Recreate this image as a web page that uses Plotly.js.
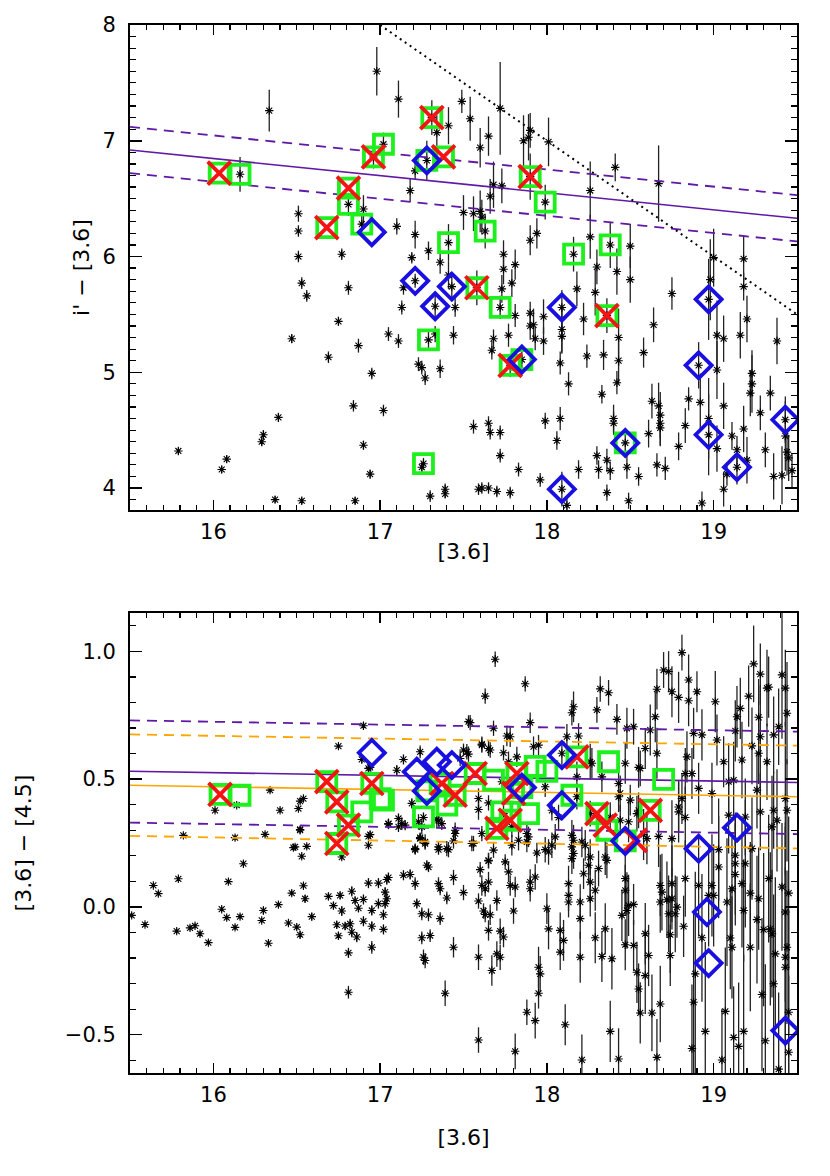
<!DOCTYPE html>
<html>
<head>
<meta charset="utf-8">
<script src="https://cdn.plot.ly/plotly-3.0.1.min.js"></script>
<style>html,body{margin:0;padding:0;background:#fff;}#chart{width:830px;height:1176px;}</style>
</head>
<body>
<div id="chart"></div>
<script>
// ---------- TOP PANEL DATA : [3.6] vs i' - [3.6] ----------
var topStarX = [16.335,16.16,16.98,17.11,17.49,17.34,17.41,17.02,17.28,17.18,17.21,16.81,16.90,16.89,16.51,16.51,16.51,16.77,17.10,17.21,17.29,17.19,17.41,17.50,17.54,17.60,17.65,17.72,17.86,17.89,17.90,18.01,17.99,18.26,18.41,18.67,18.26,18.16,18.38,18.50,17.68,17.66,17.73,17.56,17.60,17.61,17.63,17.90,17.94,17.74,19.00,19.18,16.53,16.56,16.81,16.75,16.47,16.69,16.87,16.95,17.05,17.11,17.21,17.14,17.13,17.33,17.43,17.45,17.36,17.41,17.29,17.33,17.44,17.23,17.25,17.27,17.36,16.84,17.02,16.39,16.30,16.29,16.90,15.79,16.08,16.05,16.94,17.26,17.25,17.30,17.39,16.37,16.53,16.85,17.58,17.72,18.09,18.36,18.97,17.78,17.85,18.91,18.97,19.43,19.14,18.47,18.09,17.74,17.81,17.79,17.73,17.68,17.67,17.77,17.81,17.90,17.90,17.92,17.93,17.98,17.98,18.09,18.09,18.08,18.22,18.18,18.29,18.30,18.42,18.50,18.43,18.43,18.24,18.34,18.13,18.33,18.42,18.58,18.64,18.75,18.85,18.92,18.97,19.02,19.06,19.02,18.98,19.18,19.20,19.16,19.23,19.23,19.22,19.34,19.38,19.28,19.18,19.11,19.06,19.31,19.36,19.43,19.44,19.45,19.47,19.20,19.06,19.02,19.14,19.08,18.93,18.83,18.79,18.67,18.68,18.68,18.68,18.63,18.61,18.66,18.71,18.55,18.48,18.40,18.40,18.30,18.31,18.36,18.38,18.19,18.08,18.06,17.99,17.96,17.83,17.72,17.65,17.66,17.56,17.72,17.59,17.61,17.65,17.70,17.78,17.39,18.36,18.49,18.12,19.41,17.31,17.90,16.96];
var topStarY = [7.26,6.71,7.60,7.36,7.34,7.07,7.13,6.97,6.83,6.57,6.74,6.45,6.41,6.28,6.37,6.22,6.00,6.02,6.26,6.19,6.05,5.99,6.12,6.38,7.19,6.94,7.04,7.28,7.00,7.03,7.09,6.99,6.47,6.57,6.77,6.63,6.17,6.02,6.10,6.09,6.62,6.52,6.61,6.37,6.39,6.34,6.22,6.14,6.20,6.02,5.99,5.98,5.77,5.66,5.73,5.44,5.29,5.13,5.23,4.99,5.33,5.27,5.79,5.73,5.56,5.57,5.74,5.56,5.95,5.84,5.28,5.33,5.32,5.07,5.04,4.95,5.03,4.71,4.67,4.61,4.46,4.40,4.37,4.32,4.25,4.16,4.12,4.21,4.18,3.93,3.99,3.90,3.89,3.89,5.73,5.56,5.56,5.49,5.63,5.06,5.11,5.06,4.46,4.59,4.18,4.39,3.99,5.89,5.93,5.77,5.72,5.29,5.19,5.32,5.49,5.51,5.40,5.41,5.29,5.27,5.48,5.37,5.31,5.08,5.46,5.72,5.69,5.91,5.87,5.80,5.30,5.10,5.14,5.15,4.90,4.81,4.91,5.17,5.41,5.68,4.77,4.74,4.60,5.32,5.29,5.02,5.80,5.74,5.46,5.32,4.99,4.90,4.82,4.82,5.27,4.65,4.51,4.45,4.71,4.33,4.10,4.45,4.31,4.26,4.15,4.24,3.99,4.34,4.33,4.12,3.87,4.54,4.36,4.71,4.63,4.56,4.52,4.75,4.47,4.20,4.17,4.10,4.18,4.60,4.56,4.28,4.16,4.24,4.15,4.16,4.60,4.41,4.58,4.07,4.16,4.28,4.56,4.48,4.53,4.48,3.99,4.00,4.00,3.97,3.96,3.95,3.96,3.89,3.85,4.11,7.20,6.69,6.86];
var topStarErr = [0.18,0.15,0.21,0.16,0.10,0.15,0.16,0.10,0.17,0.10,0.08,0.10,0.12,0.08,0.07,0.05,0.05,0.05,0.07,0.12,0.08,0.05,0.16,0.15,0.19,0.17,0.17,0.40,0.22,0.20,0.15,0.21,0.15,0.25,0.12,0.33,0.19,0.15,0.20,0.19,0.20,0.15,0.15,0.15,0.18,0.15,0.15,0.13,0.13,0.12,0.25,0.20,0.05,0.05,0.06,0.04,0.04,0.05,0.06,0.05,0.06,0.06,0.06,0.06,0.06,0.10,0.12,0.08,0.10,0.12,0.07,0.07,0.08,0.06,0.06,0.06,0.08,0.05,0.05,0.04,0.04,0.04,0.04,0.03,0.03,0.03,0.04,0.05,0.05,0.05,0.05,0.03,0.03,0.03,0.15,0.10,0.15,0.15,0.35,0.10,0.12,0.20,0.35,0.20,0.15,0.10,0.15,0.13,0.13,0.12,0.12,0.08,0.08,0.10,0.10,0.10,0.12,0.14,0.10,0.12,0.15,0.20,0.15,0.10,0.14,0.15,0.20,0.15,0.20,0.20,0.25,0.20,0.10,0.13,0.10,0.08,0.10,0.13,0.15,0.14,0.10,0.25,0.35,0.30,0.20,0.25,0.35,0.12,0.20,0.20,0.20,0.25,0.20,0.15,0.20,0.15,0.20,0.12,0.20,0.15,0.20,0.30,0.20,0.20,0.15,0.20,0.15,0.20,0.12,0.10,0.10,0.15,0.12,0.20,0.20,0.20,0.15,0.15,0.12,0.10,0.10,0.08,0.10,0.12,0.10,0.08,0.08,0.10,0.08,0.08,0.10,0.08,0.07,0.06,0.06,0.06,0.06,0.06,0.06,0.06,0.05,0.05,0.05,0.05,0.05,0.04,0.07,0.07,0.06,0.25,0.15,0.20,0.10];

var topSqX = [16.035,16.16,16.68,16.81,16.81,16.89,16.96,17.02,17.28,17.31,17.38,17.41,17.29,17.26,17.58,17.72,17.63,17.90,17.99,18.16,18.38,18.36,17.78,17.85,18.47];
var topSqY = [6.72,6.71,6.25,6.59,6.45,6.28,6.86,6.97,6.83,7.20,6.86,6.12,5.28,4.21,5.73,5.56,6.22,6.69,6.47,6.02,6.10,5.49,5.06,5.11,4.39];
var topXX = [16.035,16.68,16.81,16.96,17.31,17.38,17.58,17.90,18.36,17.78];
var topXY = [6.72,6.25,6.59,6.86,7.20,6.86,5.73,6.69,5.49,5.06];
var topDiaX = [16.95,17.28,17.21,17.33,17.43,18.09,18.97,17.85,18.91,18.97,19.43,19.14,18.47,18.09];
var topDiaY = [6.21,6.83,5.79,5.57,5.74,5.56,5.63,5.11,5.06,4.46,4.59,4.18,4.39,3.99];

var fitX = [15.5, 19.5];
var topFit = [6.92, 6.33];
var topFitHi = [7.12, 6.53];
var topFitLo = [6.72, 6.13];
var limitX = [17.0, 19.5];
var limitY = [8.0, 5.5];

// ---------- BOTTOM PANEL DATA : [3.6] vs [3.6] - [4.5] ----------
var botStarX = [15.51,15.59,15.64,15.67,15.79,15.78,15.82,15.86,15.89,15.92,15.97,16.05,16.08,16.09,16.13,16.13,16.16,16.18,16.29,16.30,16.31,16.33,16.39,16.45,16.47,16.48,16.50,16.52,16.52,16.53,16.54,16.55,16.56,16.59,16.69,16.72,16.74,16.75,16.76,16.77,16.77,16.79,16.82,16.83,16.81,16.81,16.83,16.85,16.86,16.87,16.90,16.90,16.93,16.93,16.94,16.95,16.95,16.95,16.99,16.99,17.02,17.02,17.03,17.03,17.04,17.05,17.04,17.05,17.15,17.14,17.18,17.21,17.22,17.21,17.25,17.29,17.25,17.30,17.26,17.27,17.29,17.24,17.27,17.35,17.35,17.36,17.36,17.39,17.40,17.41,17.44,17.44,17.44,17.45,17.50,
16.90,16.75,16.89,16.93,16.34,16.01,16.40,16.51,16.52,16.54,16.14,17.10,17.14,17.24,17.19,17.50,17.53,17.11,17.13,17.05,17.35,17.37,17.26,
16.52,16.49,16.94,16.93,17.11,17.23,17.25,17.27,17.24,17.21,17.34,17.35,17.40,17.28,
17.69,17.63,17.87,17.54,17.68,17.90,17.76,17.78,17.61,17.66,17.74,17.53,17.92,17.95,17.82,18.15,18.16,18.30,18.32,18.37,18.19,18.12,18.09,18.26,18.33,18.42,18.48,18.52,18.47,18.56,18.59,18.62,18.65,18.66,18.70,18.73,18.81,18.75,18.79,18.85,18.85,18.90,18.66,18.88,18.93,18.83,18.87,19.01,19.02,19.06,19.13,19.14,19.16,19.17,19.21,19.24,19.28,19.32,19.33,19.27,19.28,19.23,19.41,19.43,19.39,19.44,19.36,19.27,19.32,19.09,19.12,19.26,18.91,18.99,18.79,18.83,18.43,18.50,18.55,18.38,18.44,18.18,18.26,18.03,17.99,17.79,17.59,17.59,17.65,17.48,17.77,17.73,19.09,19.36,19.38,19.43,19.44,19.28,19.19,
17.56,17.60,17.59,17.61,17.63,17.65,17.65,17.62,17.63,17.66,17.65,17.70,17.72,17.74,17.70,17.72,17.67,17.59,17.59,17.68,17.75,17.77,17.78,17.81,17.80,17.81,17.90,17.90,17.93,17.88,17.89,17.94,17.99,17.95,17.96,17.95,17.88,17.93,18.00,18.01,18.08,18.10,18.08,18.11,18.13,18.13,18.13,18.22,18.20,18.20,18.16,18.15,18.23,18.25,18.26,18.29,18.26,18.20,18.21,18.29,18.33,18.31,18.36,18.35,18.39,18.38,18.43,18.45,18.47,18.47,18.49,18.48,18.52,18.52,18.47,18.54,18.55,18.56,18.59,18.59,18.61,18.63,18.66,18.68,18.69,18.68,18.68,18.72,18.73,18.75,18.75,18.77,18.78,18.74,18.74,18.83,18.82,18.88,18.89,18.87,18.91,18.93,18.95,18.97,18.99,19.00,19.03,19.05,19.07,19.08,19.10,19.11,19.11,19.12,19.15,19.13,19.13,19.13,19.17,19.18,19.18,19.19,19.22,19.22,19.23,19.26,19.27,19.29,19.30,19.31,19.33,19.34,19.35,19.37,19.36,19.41,19.43,19.44,19.43,19.43,19.45,19.45,19.45,19.39,19.35,19.03,18.75,18.67,18.58,18.16,18.05,17.83,17.79,
17.45,17.55,17.61,17.65,17.88,18.03,18.01,18.15,18.15,18.21,18.26,18.35,18.60,18.79,18.81,18.84,18.49,18.54,18.43,18.44,18.55,18.27,18.18,18.07,17.74,17.52,17.61,17.65];
var botStarY = [-0.033,-0.069,0.084,0.052,0.110,-0.095,0.280,-0.082,-0.074,-0.105,-0.140,-0.009,-0.042,0.099,-0.080,0.271,-0.038,0.169,-0.053,-0.014,0.284,-0.142,0.009,-0.063,0.054,0.232,-0.079,-0.109,0.300,0.198,0.083,0.032,0.237,-0.038,0.041,0.005,-0.070,-0.113,0.045,-0.016,0.195,-0.075,-0.066,-0.099,-0.180,-0.334,0.061,0.025,-0.118,-0.005,0.029,-0.056,0.093,0.241,0.283,-0.014,-0.076,-0.158,0.093,0.013,-0.031,-0.088,0.058,0.013,0.107,0.115,0.032,0.324,0.320,0.124,0.127,0.091,0.013,0.224,-0.027,-0.031,-0.121,-0.112,-0.197,-0.210,0.156,0.271,0.248,0.224,0.091,0.071,-0.046,-0.338,0.035,0.224,0.115,-0.158,0.258,0.287,0.056,
0.709,0.629,0.577,0.542,0.457,0.378,0.378,0.385,0.414,0.424,0.398,0.535,0.577,0.607,0.405,0.614,0.725,0.346,0.326,0.326,0.339,0.326,0.350,
0.303,0.235,0.546,0.276,0.313,0.333,0.313,0.254,0.267,0.228,0.342,0.235,0.228,0.163,
0.969,0.825,0.873,0.721,0.699,0.721,0.669,0.666,0.637,0.614,0.603,0.598,0.627,0.633,0.587,0.760,0.783,0.771,0.853,0.838,0.669,0.666,0.601,0.568,0.509,0.734,0.699,0.705,0.562,0.542,0.620,0.692,0.744,0.852,0.927,0.921,0.995,0.842,0.820,0.888,0.807,0.842,0.601,0.679,0.673,0.522,0.522,0.803,0.653,0.568,0.689,0.744,0.777,0.575,0.825,0.951,0.911,0.856,0.860,0.742,0.666,0.630,0.908,0.856,0.705,0.758,0.673,0.601,0.568,0.490,0.496,0.457,0.464,0.444,0.391,0.350,0.431,0.418,0.378,0.350,0.339,0.431,0.365,0.378,0.470,0.313,0.424,0.381,0.407,0.581,0.568,0.490,0.359,0.378,0.339,0.424,0.378,0.372,0.352,
0.248,0.146,0.023,0.084,0.071,0.097,0.180,-0.016,-0.030,-0.031,-0.092,0.025,-0.095,-0.118,-0.184,-0.197,-0.249,-0.197,-0.521,0.222,0.176,0.137,0.084,0.078,-0.016,-0.565,0.097,0.071,0.117,0.254,0.274,0.211,0.224,-0.236,-0.262,-0.338,-0.412,-0.445,-0.007,-0.086,-0.092,-0.131,-0.177,-0.461,0.091,0.045,0.019,0.130,0.019,-0.046,0.209,0.189,0.241,0.163,0.097,0.065,0.032,-0.197,-0.599,-0.121,-0.194,0.150,0.182,-0.086,-0.203,-0.487,-0.595,-0.033,0.111,0.065,0.006,-0.014,0.010,-0.151,-0.148,-0.256,-0.321,-0.415,-0.105,-0.269,-0.190,-0.415,-0.589,0.084,0.058,0.019,-0.380,0.028,-0.027,0.091,0.032,-0.027,-0.001,-0.109,-0.190,0.111,-0.076,-0.373,-0.262,-0.554,0.084,-0.121,-0.487,0.045,0.084,0.045,0.156,-0.599,-0.409,0.019,-0.122,-0.158,0.071,-0.511,-0.546,0.202,0.169,0.127,0.091,-0.014,-0.487,0.169,-0.158,0.054,0.228,-0.050,0.032,-0.343,-0.089,-0.524,0.111,-0.086,-0.105,-0.184,-0.301,0.078,-0.020,-0.158,-0.197,-0.236,0.054,-0.412,-0.569,-0.635,0.313,0.224,0.267,0.276,0.283,0.261,0.274,0.261,0.241,
0.300,0.248,0.287,0.182,0.287,0.241,0.215,0.280,0.235,0.254,0.195,0.195,0.267,0.372,0.424,0.587,0.333,0.365,0.483,0.444,0.546,0.562,0.509,0.350,0.365,0.607,0.633,0.620];
var botStarErr = [0.010,0.010,0.010,0.010,0.010,0.010,0.010,0.010,0.010,0.010,0.010,0.010,0.010,0.010,0.010,0.010,0.010,0.010,0.010,0.015,0.010,0.010,0.010,0.010,0.010,0.010,0.010,0.015,0.010,0.010,0.010,0.015,0.010,0.015,0.015,0.015,0.015,0.015,0.015,0.020,0.010,0.015,0.020,0.020,0.020,0.025,0.020,0.015,0.020,0.015,0.020,0.020,0.020,0.015,0.015,0.020,0.020,0.025,0.020,0.020,0.020,0.020,0.020,0.020,0.020,0.020,0.020,0.020,0.020,0.020,0.020,0.025,0.020,0.020,0.025,0.025,0.025,0.025,0.030,0.030,0.020,0.020,0.020,0.020,0.025,0.025,0.025,0.050,0.025,0.030,0.030,0.040,0.030,0.030,0.030,
0.015,0.010,0.015,0.015,0.010,0.010,0.010,0.010,0.010,0.010,0.010,0.020,0.020,0.025,0.020,0.025,0.025,0.020,0.025,0.020,0.025,0.025,0.020,
0.010,0.010,0.015,0.015,0.020,0.030,0.030,0.030,0.020,0.020,0.030,0.020,0.030,0.020,
0.030,0.030,0.030,0.030,0.030,0.040,0.040,0.040,0.030,0.030,0.030,0.030,0.040,0.040,0.040,0.050,0.060,0.050,0.050,0.050,0.050,0.050,0.050,0.070,0.060,0.060,0.080,0.070,0.080,0.070,0.080,0.100,0.100,0.080,0.070,0.080,0.070,0.100,0.100,0.100,0.100,0.080,0.100,0.100,0.100,0.100,0.100,0.120,0.100,0.100,0.120,0.120,0.120,0.150,0.120,0.150,0.120,0.150,0.120,0.150,0.200,0.150,0.250,0.150,0.150,0.200,0.150,0.120,0.150,0.150,0.150,0.150,0.100,0.120,0.100,0.120,0.060,0.060,0.070,0.060,0.060,0.050,0.050,0.040,0.040,0.040,0.040,0.040,0.030,0.030,0.040,0.040,0.150,0.150,0.200,0.300,0.200,0.150,0.150,
0.030,0.030,0.030,0.040,0.030,0.040,0.030,0.030,0.030,0.040,0.040,0.040,0.050,0.040,0.050,0.050,0.060,0.050,0.050,0.030,0.030,0.040,0.040,0.040,0.050,0.070,0.050,0.050,0.050,0.040,0.040,0.040,0.050,0.080,0.070,0.060,0.050,0.070,0.060,0.080,0.070,0.080,0.070,0.080,0.070,0.060,0.060,0.060,0.070,0.080,0.060,0.060,0.060,0.070,0.070,0.080,0.070,0.100,0.100,0.100,0.100,0.070,0.070,0.100,0.120,0.120,0.120,0.100,0.120,0.100,0.120,0.150,0.080,0.100,0.100,0.120,0.100,0.120,0.120,0.150,0.120,0.150,0.150,0.120,0.150,0.120,0.150,0.150,0.150,0.150,0.120,0.150,0.120,0.150,0.120,0.150,0.120,0.350,0.400,0.250,0.200,0.250,0.350,0.200,0.200,0.200,0.200,0.200,0.250,0.250,0.200,0.200,0.200,0.200,0.250,0.150,0.200,0.200,0.250,0.200,0.300,0.250,0.250,0.200,0.200,0.250,0.200,0.300,0.300,0.300,0.250,0.300,0.250,0.300,0.350,0.250,0.350,0.300,0.350,0.550,0.300,0.400,0.300,0.300,0.200,0.200,0.150,0.120,0.100,0.060,0.050,0.040,0.040,
0.030,0.030,0.030,0.030,0.040,0.050,0.050,0.060,0.060,0.060,0.070,0.070,0.100,0.120,0.100,0.100,0.080,0.070,0.070,0.070,0.080,0.060,0.060,0.050,0.040,0.030,0.030,0.030];

var botSqX = [16.04,16.16,16.68,16.74,16.81,16.74,16.89,16.95,17.00,17.02,17.26,17.36,17.45,17.40,17.57,17.68,17.82,17.80,17.93,18.00,18.18,18.37,18.15,18.30,18.36,18.62,18.70,18.47,17.70,17.78,17.73,17.89,17.85,17.28];
var botSqY = [0.440,0.437,0.490,0.411,0.320,0.248,0.372,0.483,0.424,0.418,0.352,0.483,0.437,0.398,0.522,0.496,0.522,0.444,0.550,0.530,0.587,0.568,0.437,0.365,0.300,0.378,0.499,0.258,0.307,0.339,0.372,0.365,0.467,0.454];
var botXX = [16.04,16.68,16.74,16.81,16.74,16.95,17.37,17.45,17.57,17.82,17.80,17.70,17.78,18.18,18.30,18.35,18.62,18.53];
var botXY = [0.440,0.490,0.411,0.320,0.248,0.483,0.483,0.437,0.522,0.522,0.444,0.307,0.339,0.587,0.365,0.320,0.378,0.260];
var botDiaX = [16.95,17.22,17.34,17.28,17.43,17.85,18.09,18.09,18.47,18.91,18.96,18.97,19.14,19.43];
var botDiaY = [0.603,0.529,0.568,0.454,0.555,0.467,0.594,0.398,0.258,0.228,-0.020,-0.220,0.310,-0.484];

var botFitP = [0.531, 0.487];
var botFitPHi = [0.730, 0.686];
var botFitPLo = [0.330, 0.285];
var botFitO = [0.476, 0.431];
var botFitOHi = [0.675, 0.631];
var botFitOLo = [0.278, 0.229];

// ---------- STYLE ----------
var GREEN = 'rgb(30,240,30)', RED = 'rgb(245,20,20)', BLUE = 'rgb(25,15,225)';
var PURPLE = 'rgb(95,25,165)', ORANGE = 'rgb(255,165,0)';
var FONT = 'DejaVu Sans';

function stars(x, y, e, xa, ya) {
  return {x: x, y: y, xaxis: xa, yaxis: ya, type: 'scatter', mode: 'markers', hoverinfo: 'skip',
    marker: {symbol: 'asterisk-open', size: 7, color: '#000', line: {color: '#000', width: 1.1}},
    error_y: {type: 'data', array: e, visible: true, color: '#222', thickness: 1.3, width: 0}};
}
function line(x, y, color, dash, w, xa, ya) {
  return {x: x, y: y, xaxis: xa, yaxis: ya, type: 'scatter', mode: 'lines', hoverinfo: 'skip',
    line: {color: color, dash: dash, width: w}};
}
function marks(x, y, sym, size, color, w, xa, ya) {
  return {x: x, y: y, xaxis: xa, yaxis: ya, type: 'scatter', mode: 'markers', hoverinfo: 'skip',
    marker: {symbol: sym, size: size, color: color, line: {color: color, width: w}}};
}

var traces = [
  stars(topStarX, topStarY, topStarErr, 'x', 'y'),
  line(fitX, topFit, PURPLE, 'solid', 1.6, 'x', 'y'),
  line(fitX, topFitHi, PURPLE, '10px,7px', 1.8, 'x', 'y'),
  line(fitX, topFitLo, PURPLE, '10px,7px', 1.8, 'x', 'y'),
  line(limitX, limitY, '#000', '2px,4px', 2, 'x', 'y'),
  marks(topSqX, topSqY, 'square-open', 19, GREEN, 3.8, 'x', 'y'),
  marks(topXX, topXY, 'x-thin-open', 23, RED, 3.8, 'x', 'y'),
  marks(topDiaX, topDiaY, 'diamond-open', 20, BLUE, 3.8, 'x', 'y'),

  stars(botStarX, botStarY, botStarErr, 'x2', 'y2'),
  line(fitX, botFitP, PURPLE, 'solid', 1.6, 'x2', 'y2'),
  line(fitX, botFitPHi, PURPLE, '10px,7px', 1.8, 'x2', 'y2'),
  line(fitX, botFitPLo, PURPLE, '10px,7px', 1.8, 'x2', 'y2'),
  line(fitX, botFitO, ORANGE, 'solid', 1.6, 'x2', 'y2'),
  line(fitX, botFitOHi, ORANGE, '10px,7px', 1.8, 'x2', 'y2'),
  line(fitX, botFitOLo, ORANGE, '10px,7px', 1.8, 'x2', 'y2'),
  marks(botSqX, botSqY, 'square-open', 19, GREEN, 3.8, 'x2', 'y2'),
  marks(botXX, botXY, 'x-thin-open', 23, RED, 3.8, 'x2', 'y2'),
  marks(botDiaX, botDiaY, 'diamond-open', 20, BLUE, 3.8, 'x2', 'y2')
];

function xax(anchor, standoff) {
  return {anchor: anchor, domain: [0, 1], range: [15.5, 19.5], tick0: 16, dtick: 1,
    ticks: 'inside', ticklen: 10, tickwidth: 1.5, tickcolor: '#000',
    minor: {dtick: 0.1, ticks: 'inside', ticklen: 5, tickwidth: 1.2, tickcolor: '#000', showgrid: false},
    showline: true, linewidth: 2, linecolor: '#000', mirror: 'ticks',
    showgrid: false, zeroline: false, ticklabelstandoff: 2,
    tickfont: {family: FONT, size: 21, color: '#000'},
    title: {text: '[3.6]', font: {family: FONT, size: 22, color: '#000'}, standoff: standoff},
    automargin: false};
}
function yax(anchor, domain, range, dtick, fmt, title, standoff) {
  return {anchor: anchor, domain: domain, range: range, dtick: dtick, tickformat: fmt,
    ticks: 'inside', ticklen: 12, tickwidth: 1.5, tickcolor: '#000',
    minor: {dtick: 0.1, ticks: 'inside', ticklen: 6, tickwidth: 1.2, tickcolor: '#000', showgrid: false},
    showline: true, linewidth: 2, linecolor: '#000', mirror: 'ticks',
    showgrid: false, zeroline: false, ticklabelstandoff: 8,
    tickfont: {family: FONT, size: 21, color: '#000'},
    title: {text: title, font: {family: FONT, size: 22, color: '#000'}, standoff: standoff},
    automargin: false};
}

var layout = {
  width: 830, height: 1176,
  margin: {l: 130, r: 33, t: 25, b: 103},
  paper_bgcolor: '#fff', plot_bgcolor: '#fff',
  showlegend: false,
  font: {family: FONT, color: '#000'},
  xaxis: xax('y', 0),
  yaxis: yax('x', [0.5372, 1], [3.81, 8], 1, 'd', "i' − [3.6]", 7),
  xaxis2: xax('y2', 23),
  yaxis2: yax('x2', [0, 0.4389], [-0.65, 1.15], 0.5, '.1f', '[3.6] − [4.5]', 27)
};

Plotly.newPlot('chart', traces, layout, {staticPlot: true, displayModeBar: false});
</script>
</body>
</html>
